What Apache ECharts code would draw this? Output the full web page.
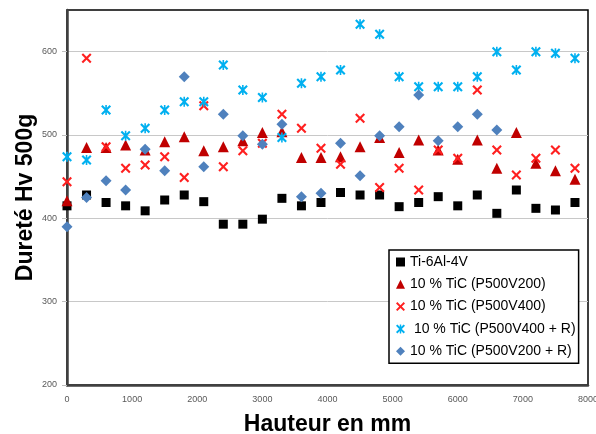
<!DOCTYPE html>
<html><head><meta charset="utf-8">
<script src="https://cdn.jsdelivr.net/npm/echarts@6/dist/echarts.min.js"></script>
<style>html,body{margin:0;padding:0;background:#fff}#c{width:596px;height:434px}</style>
</head><body><div id="c"></div>
<script>
const heights = [0,300,600,900,1200,1500,1800,2100,2400,2700,3000,3300,3600,3900,4200,4500,4800,5100,5400,5700,6000,6300,6600,6900,7200,7500,7800];
const seriesNames = ['Ti-6Al-4V','10 % TiC (P500V200)','10 % TiC (P500V400)',' 10 % TiC (P500V400 + R)','10 % TiC (P500V200 + R)'];
const ti64 = [415,428,419,415,409,422,428,420,393,393,399,424,415,419,431,428,428,414,419,426,415,428,406,434,412,410,419];
const ticV200 = [421,485,485,488,482,492,498,481,486,493,503,504,473,473,474,486,497,479,494,482,471,494,460,503,466,457,447];
const ticV400 = [444,592,486,460,464,474,449,535,462,481,490,525,508,484,465,520,437,460,434,482,472,554,482,452,472,482,460];
const ticV400R = [474,470,530,499,508,530,540,540,584,554,545,497,562,570,578,633,621,570,558,558,558,570,600,578,600,598,592];
const ticV200R = [390,425,445,434,483,457,570,462,525,499,489,513,426,430,490,451,499,510,548,493,510,525,506];
const yTicks = [200,300,400,500,600];
const xTicks = [0,1000,2000,3000,4000,5000,6000,7000,8000];

function pairs(vals){ return vals.map((v,i)=>[heights[i], v]); }

const xPath = 'path://M0,1.5L1.5,0L5,3.5L8.5,0L10,1.5L6.5,5L10,8.5L8.5,10L5,6.5L1.5,10L0,8.5L3.5,5Z';
const starPath = 'path://M0,1.5L1.5,0L5,3.5L8.5,0L10,1.5L6.5,5L10,8.5L8.5,10L5,6.5L1.5,10L0,8.5L3.5,5Z M4.2,0L5.8,0L5.8,10L4.2,10Z';

const chart = echarts.init(document.getElementById('c'), null, {renderer:'canvas'});
const labelFont = {fontFamily:'Liberation Sans', fontSize:9, color:'#595959'};
chart.setOption({
  animation:false,
  backgroundColor:'#fff',
  grid:{left:67, right:8, top:10, bottom:49, show:true, borderColor:'#000', borderWidth:1.5, containLabel:false, outerBoundsMode:'none'},
  xAxis:{
    type:'value', min:0, max:8000, interval:1000,
    name:'Hauteur en mm', nameLocation:'middle', nameGap:28, nameMoveOverlap:false,
    nameTextStyle:{fontFamily:'Liberation Sans', fontWeight:'bold', fontSize:23, color:'#000'},
    axisLine:{show:true, onZero:false, lineStyle:{color:'#404040', width:2.5}},
    axisTick:{show:false},
    axisLabel:Object.assign({margin:10, customValues:xTicks, formatter:function(v){return String(v);}}, labelFont),
    splitLine:{show:false}
  },
  yAxis:{
    type:'value', min:200, max:650, interval:100,
    name:'Dureté Hv 500g', nameLocation:'middle', nameGap:30, nameMoveOverlap:false,
    nameTextStyle:{fontFamily:'Liberation Sans', fontWeight:'bold', fontSize:23, color:'#000'},
    axisLine:{show:true, onZero:false, lineStyle:{color:'#404040', width:2.5}},
    axisTick:{show:true, length:5, customValues:yTicks, lineStyle:{color:'#bfbfbf'}},
    axisLabel:Object.assign({margin:10, customValues:yTicks, formatter:function(v){return String(v);}}, labelFont),
    splitLine:{show:true, lineStyle:{color:'#c8c8c8', width:1}}
  },
  legend:{
    orient:'vertical', left:389, top:250,
    backgroundColor:'#fff', borderColor:'#000', borderWidth:1.5,
    padding:[5,3,5,7], itemGap:8.3, itemWidth:9, itemHeight:9,
    textStyle:{fontFamily:'Liberation Sans', fontSize:14, color:'#000'},
    data:seriesNames
  },
  series:[
    {name:seriesNames[0], type:'scatter', symbol:'rect', symbolSize:9, itemStyle:{color:'#000', opacity:1}, data:pairs(ti64)},
    {name:seriesNames[1], type:'scatter', symbol:'triangle', symbolSize:11, itemStyle:{color:'#C00000', opacity:1}, data:pairs(ticV200)},
    {name:seriesNames[2], type:'scatter', symbol:xPath, symbolSize:10, itemStyle:{color:'#FF2020', opacity:1}, data:pairs(ticV400)},
    {name:seriesNames[3], type:'scatter', symbol:starPath, symbolSize:10, itemStyle:{color:'#00B0F0', opacity:1}, data:pairs(ticV400R)},
    {name:seriesNames[4], type:'scatter', symbol:'diamond', symbolSize:11, itemStyle:{color:'#4F81BD', opacity:1}, data:pairs(ticV200R)}
  ]
});
</script></body></html>
